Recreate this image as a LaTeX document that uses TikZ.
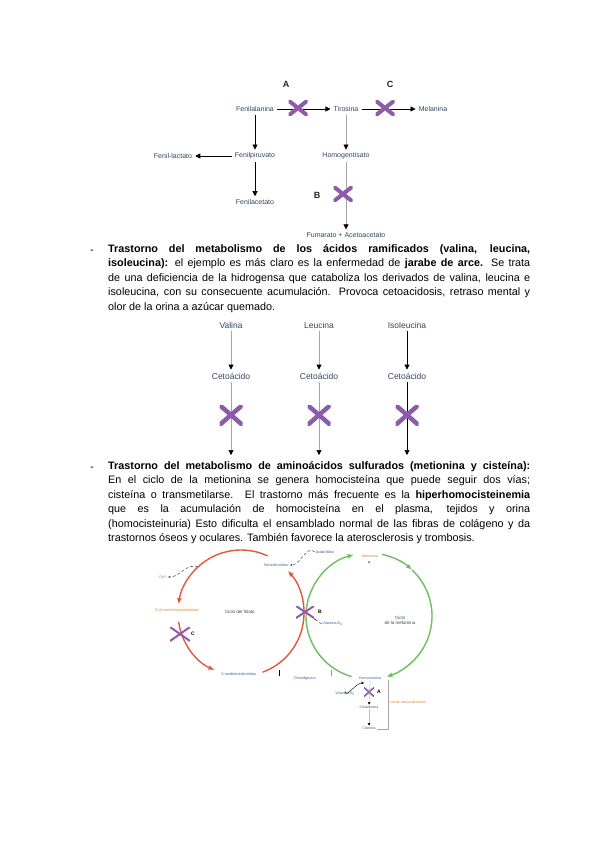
\documentclass[tikz,border=0pt]{standalone}
\usepackage{fontspec}
\setmainfont{Liberation Sans}
\usepackage{xcolor}
\usetikzlibrary{arrows.meta,positioning}

\definecolor{xpurple}{HTML}{8E5BAA}
\definecolor{labtext}{HTML}{34475E}
\definecolor{folred}{HTML}{E8553F}
\definecolor{metgreen}{HTML}{6DBF5B}
\definecolor{laborange}{HTML}{D9822B}
\definecolor{labblue}{HTML}{2F5FA8}

\begin{document}
\begin{tikzpicture}[x=1pt, y=-1pt,
  para/.style={anchor=north west, inner sep=0pt, text width=422pt, align=justify,
               font=\fontsize{10.8}{14.5}\selectfont},
  lab/.style={font=\fontsize{7}{8}\selectfont, text=labtext, inner sep=3pt},
  midlab/.style={font=\fontsize{8.5}{10}\selectfont, text=labtext, inner sep=3pt},
  tiny/.style={font=\fontsize{3.6}{4.2}\selectfont, inner sep=0.8pt, align=center},
  cyclab/.style={font=\fontsize{4.5}{5.2}\selectfont, text=labtext, align=center},
  letter/.style={font=\bfseries\fontsize{9}{10}\selectfont, text=black!85},
  xletter/.style={font=\bfseries\fontsize{5}{6}\selectfont, inner sep=0.5pt},
  arr/.style={-{Triangle[length=5pt,width=5pt,color=black]}, line width=0.6pt},
  grayarr/.style={arr, draw=black!35},
  smallarr/.style={-{Triangle[length=2.5pt,width=2.5pt,color=black]}, line width=0.4pt, draw=black!25},
  redcyc/.style={draw=folred, line width=1.4pt, -{Latex[length=6pt,width=5pt]}},
  greencyc/.style={draw=metgreen, line width=1.4pt, -{Latex[length=6pt,width=5pt]}},
  dasharr/.style={densely dashed, line width=0.5pt, black!70, -{Latex[length=2.5pt]}},
  xmark/.style args={#1/#2/#3}{minimum width=#1, minimum height=#2, inner sep=0pt,
    path picture={\draw[xpurple, line width=#3]
      (path picture bounding box.south west) -- (path picture bounding box.north east)
      (path picture bounding box.north west) -- (path picture bounding box.south east);}}]
\fill[white] (0,0) rectangle (600,848);
\useasboundingbox (0,0) rectangle (600,848);

% fenilalanina / tirosina
\node[letter] (la) at (286,84) {A};
\node[letter] (lc) at (390,84) {C};
\node[lab] (fen) at (255,109) {Fenilalanina};
\node[lab] (tir) at (346,109) {Tirosina};
\node[lab] (mel) at (433,109) {Melanina};
\node[lab] (fpir) at (255,156) {Fenilpiruvato};
\node[lab] (flac) at (173,156) {Fenil-lactato};
\node[lab] (fac) at (255,202) {Fenilacetato};
\node[lab] (hom) at (346,156) {Homogentisato};
\node[lab] (fum) at (346,235) {Fumarato + Acetoacetato};
\foreach \a/\b in {fen/tir,tir/mel,fen/fpir,fpir/flac,fpir/fac}
  \draw[arr] (\a) -- (\b);
\foreach \a/\b in {tir/hom,hom/fum}
  \draw[grayarr] (\a) -- (\b);
\node[xmark=19pt/15pt/4pt] (xa) at (298,108) {};
\node[xmark=19pt/15pt/4pt] (xc) at (385,108) {};
\node[xmark=19pt/15pt/4pt] (xbb) at (343,194) {};
\node[letter] (lb) at (317,195) {B};

\node[font=\fontsize{11}{14.5}\selectfont, anchor=base] (dash1) at (92,253) {-};
\node[para] (p1) at (108,244) {\textbf{Trastorno del metabolismo de los ácidos ramificados (valina, leucina,}\linebreak
\textbf{isoleucina):} el ejemplo es más claro es la enfermedad de \textbf{jarabe de arce.} Se trata\linebreak
de una deficiencia de la hidrogensa que cataboliza los derivados de valina, leucina e\linebreak
isoleucina, con su consecuente acumulación. Provoca cetoacidosis, retraso mental y\linebreak
olor de la orina a azúcar quemado.};

% aminoacidos ramificados
\foreach \n/\t/\x in {val/Valina/231,leu/Leucina/319,iso/Isoleucina/407}{
  \node[midlab] (\n) at (\x,325) {\t};
  \node[midlab] (c\n) at (\x,376) {Cetoácido};
  \coordinate (e\n) at (\x,455);
}
\foreach \n in {val,leu}{
  \draw[grayarr] (\n) -- (c\n);
  \draw[grayarr] (c\n) -- (e\n);
}
\draw[arr] (iso) -- (ciso);
\draw[arr] (ciso) -- (eiso);
\foreach \n in {val,leu,iso}
  \node[xmark=23pt/20pt/4.5pt] (x\n) at (c\n |- 0,415) {};

\node[font=\fontsize{11}{14.5}\selectfont, anchor=base] (dash2) at (92,470) {-};
\node[para] (p2) at (108,461) {\textbf{Trastorno del metabolismo de aminoácidos sulfurados (metionina y cisteína):}\linebreak
En el ciclo de la metionina se genera homocisteína que puede seguir dos vías;\linebreak
cisteína o transmetilarse. El trastorno más frecuente es la \textbf{hiperhomocisteinemia}\linebreak
que es la acumulación de homocisteína en el plasma, tejidos y orina\linebreak
(homocisteinuria) Esto dificulta el ensamblado normal de las fibras de colágeno y da\linebreak
trastornos óseos y oculares. También favorece la aterosclerosis y trombosis.};

% ciclos del folato y de la metionina
\coordinate (fol) at (241,613);
\coordinate (met) at (369,616);
\draw[redcyc] (fol) ++(70:63) arc[start angle=70, end angle=-42, radius=63];
\draw[redcyc] (fol) ++(-65:63) arc[start angle=-65, end angle=-172, radius=63];
\draw[redcyc] (fol) ++(-188:63) arc[start angle=-188, end angle=-245, radius=63];
\draw[greencyc] (met) ++(-78:63) arc[start angle=-78, end angle=-47, radius=63];
\draw[greencyc] (met) ++(-47:63) arc[start angle=-47, end angle=74, radius=63];
\draw[greencyc] (met) ++(106:63) arc[start angle=106, end angle=256, radius=63];
\path (fol) ++(-133:63) coordinate (fdhf);

\node[cyclab] (cfol) at (240,612) {Ciclo del folato};
\node[cyclab] (cmet) at (400,620) {Ciclo\\de la metionina};
\node[tiny, text=labblue] (thf) at (276,565) {Tetrahidrofolato};
\node[tiny, text=labtext] (acf) at (325,552) {Ácido fólico};
\node[tiny, text=laborange] (dhf) at (163,577) {DHF};
\node[tiny, text=laborange] (mthf) at (177,610) {5,10-metilentetrahidrofolato};
\node[tiny, text=labblue] (mthf5) at (239,674) {5-metiltetrahidrofolato};
\node[tiny, text=labblue] (b12) at (333,624) {Vitamina B\textsubscript{12}};
\node[tiny, text=labblue] (dmg) at (305,679) {Dimetilglicina};
\node[tiny, text=laborange] (metn) at (370,556) {Metionina};
\node[tiny] (sa) at (369,563) {a};
\node[tiny, text=labblue] (hcy) at (370,678) {Homocisteína};
\node[tiny, text=labblue] (b6) at (345,694) {Vitamina B\textsubscript{6}};
\node[tiny, text=labblue] (cist) at (369,707) {Cistationina};
\node[tiny, text=labblue] (cys) at (369,728) {Cisteína};
\node[tiny, text=laborange] (trans) at (408,702) {Vía de transsulfuración};

\node[xmark=18pt/12pt/2pt] (xb) at (305,612) {};
\node[xletter] (lxb) at (320,612) {B};
\node[xmark=20pt/14pt/2pt] (xcc) at (180,634) {};
\node[xletter] (lxc) at (193,634) {C};
\node[xmark=10pt/9pt/1.6pt] (xaa) at (369,692) {};
\node[xletter] (lxa) at (379,692) {A};

\draw[dasharr] (acf.west) to[out=135,in=0] (thf.east);
\draw[dasharr] (fdhf) to[out=160,in=0] (dhf.east);
\draw[dasharr] (b12.west) -- (xb);
\coordinate (hin) at (364,683);
\draw[-{Triangle[length=2.5pt,width=2.5pt]}, line width=0.4pt] (b6.north) to[out=-90,in=180] (hin);
\draw[smallarr] (hcy) -- (cist);
\draw[smallarr] (cist) -- (cys);
\coordinate (tr1) at (388,680);
\coordinate (tr2) at (388,729);
\draw[black!35, line width=0.5pt] (tr1) -- (tr2) -- (tr2 -| cys.east);
\draw[line width=0.6pt] (279,670) -- (279,676);
\draw[black!40, line width=0.6pt] (331,670) -- (331,676);
\end{tikzpicture}
\end{document}
